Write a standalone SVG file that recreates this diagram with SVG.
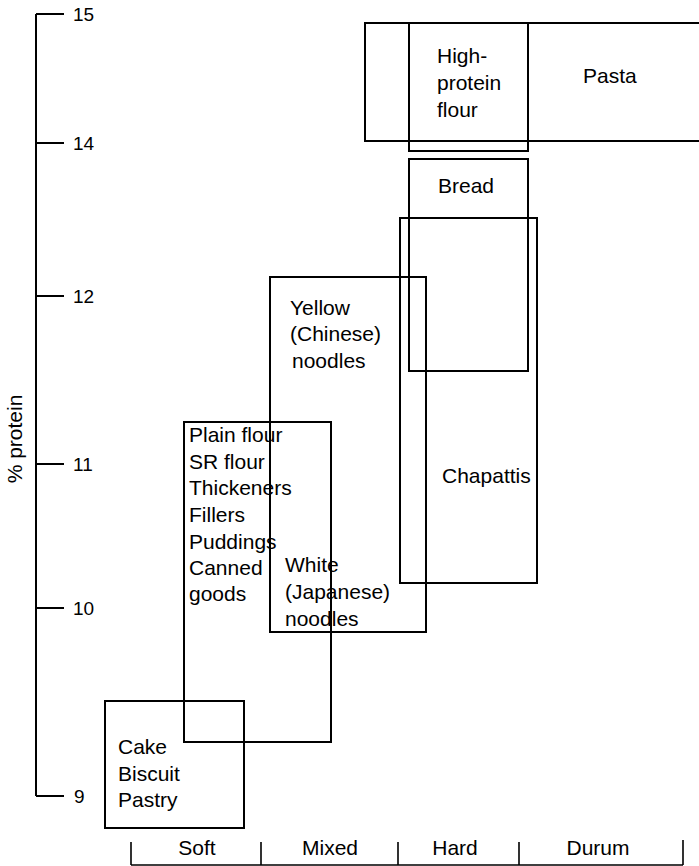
<svg xmlns="http://www.w3.org/2000/svg" width="699" height="866" viewBox="0 0 699 866">
<style>
.box{fill:none;stroke:#000;stroke-width:2}
.ax{fill:none;stroke:#000;stroke-width:2}
.t{font-family:"Liberation Sans",Arial,sans-serif;font-size:21px;fill:#000}
.n{font-family:"Liberation Sans",Arial,sans-serif;font-size:19px;fill:#000}
.c{text-anchor:middle}
</style>
<rect width="699" height="866" fill="#fff"/>
<g id="axes">
<path class="ax" d="M36,14 V796 M36,14 H64 M36,143 H64 M36,296 H64 M36,464 H64 M36,608 H64 M36,796 H64"/>
<text class="n" x="73" y="21">15</text>
<text class="n" x="73" y="150">14</text>
<text class="n" x="73" y="303">12</text>
<text class="n" x="73" y="471">11</text>
<text class="n" x="73" y="615">10</text>
<text class="n" x="74" y="803">9</text>
<text class="t c" transform="translate(22,439) rotate(-90)">% protein</text>
<path class="ax" d="M131,842 V865 M261,842 V865 M398,842 V865 M519,842 V865 M683,840 V865 M131,865 H683" style="stroke-width:1.6"/>
<text class="t c" x="197" y="855">Soft</text>
<text class="t c" x="330" y="855">Mixed</text>
<text class="t c" x="455" y="855">Hard</text>
<text class="t c" x="598" y="855">Durum</text>
</g>
<g id="pasta">
<rect class="box" x="365" y="23" width="336" height="118"/>
<text class="t" x="583" y="83">Pasta</text>
</g>
<g id="high-protein-flour">
<rect class="box" x="409" y="23" width="119" height="128"/>
<text class="t" x="437" y="63">High-</text>
<text class="t" x="437" y="90">protein</text>
<text class="t" x="437" y="117">flour</text>
</g>
<g id="bread">
<rect class="box" x="409" y="159" width="119" height="212"/>
<text class="t" x="438" y="193">Bread</text>
</g>
<g id="chapattis">
<rect class="box" x="400" y="218" width="137" height="365"/>
<text class="t" x="442" y="483">Chapattis</text>
</g>
<g id="yellow-noodles">
<rect class="box" x="270" y="277" width="156" height="355"/>
<text class="t" x="290" y="315">Yellow</text>
<text class="t" x="290" y="341">(Chinese)</text>
<text class="t" x="292" y="368">noodles</text>
</g>
<g id="white-noodles">
<text class="t" x="285" y="572">White</text>
<text class="t" x="285" y="599">(Japanese)</text>
<text class="t" x="285" y="626">noodles</text>
</g>
<g id="plain-flour">
<rect class="box" x="184" y="422" width="147" height="320"/>
<text class="t" x="189" y="442">Plain flour</text>
<text class="t" x="189" y="469">SR flour</text>
<text class="t" x="189" y="495">Thickeners</text>
<text class="t" x="189" y="522">Fillers</text>
<text class="t" x="189" y="549">Puddings</text>
<text class="t" x="189" y="575">Canned</text>
<text class="t" x="189" y="601">goods</text>
</g>
<g id="cake">
<rect class="box" x="105" y="701" width="139" height="127"/>
<text class="t" x="118" y="754">Cake</text>
<text class="t" x="118" y="781">Biscuit</text>
<text class="t" x="118" y="807">Pastry</text>
</g>
</svg>
